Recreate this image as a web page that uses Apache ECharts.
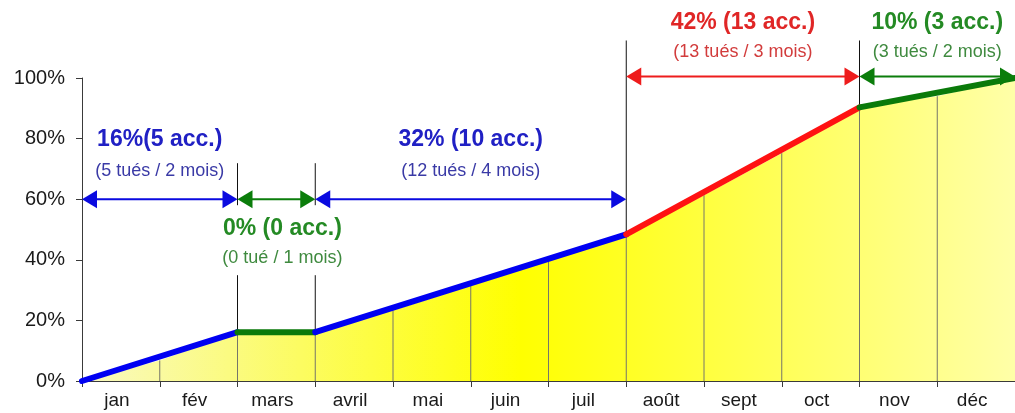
<!DOCTYPE html>
<html>
<head>
<meta charset="utf-8">
<script src="https://cdn.jsdelivr.net/npm/echarts@6/dist/echarts.min.js"></script>
<style>
  html, body { margin: 0; padding: 0; background: #ffffff; }
  #chart { width: 1015px; height: 413px; }
</style>
</head>
<body>
<div id="chart"></div>
<script>
// Cumulative share of accidents over the year, with period annotations.
const months = ['jan', 'fév', 'mars', 'avril', 'mai', 'juin', 'juil', 'août', 'sept', 'oct', 'nov', 'déc'];
// cumulative % at each month boundary (0 = start of jan, 12 = end of déc)
const cumulative = [0, 6.8, 16.1, 16.1, 23.3, 31.4, 39.5, 48.4, 61.3, 75.2, 90.3, 94.0, 100];

// periods, in month-boundary units
const periodStart = [0, 2, 3, 7, 10];
const periodEnd = [2, 3, 7, 10, 12];
const periodLevel = [60, 60, 60, 100.5, 100.5];
const periodShare = ['16%(5 acc.)', '0% (0 acc.)', '32% (10 acc.)', '42% (13 acc.)', '10% (3 acc.)'];
const periodDetail = ['(5 tués / 2 mois)', '(0 tué / 1 mois)', '(12 tués / 4 mois)', '(13 tués / 3 mois)', '(3 tués / 2 mois)'];
const periodTone = ['blue', 'green', 'blue', 'red', 'green'];

const palette = {
  blue:  { line: '#0000f2', arrow: '#0a0ae0', title: '#2020c4', detail: '#3a3aa6' },
  green: { line: '#0a7a0a', arrow: '#0b7d0b', title: '#248a24', detail: '#3f8a3f' },
  red:   { line: '#ff1212', arrow: '#ee1c1c', title: '#e02626', detail: '#d23c3c' }
};
const FONT = '"Liberation Sans", Arial, sans-serif';

const chart = echarts.init(document.getElementById('chart'), null, { renderer: 'canvas' });

// each period is drawn as a straight trend from its first to its last boundary
const segmentSeries = periodStart.map((s, i) => ({
  type: 'line',
  data: [[s, cumulative[s]], [periodEnd[i], cumulative[periodEnd[i]]]],
  xAxisIndex: 0,
  symbol: 'none',
  z: 4,
  silent: true,
  lineStyle: { color: palette[periodTone[i]].line, width: 6, cap: 'round', join: 'round' }
}));

const boundaries = periodStart.slice(1);

const option = {
  animation: false,
  backgroundColor: '#ffffff',
  grid: { left: 82, right: 0, top: 78, bottom: 32, containLabel: false, outerBoundsMode: 'none' },
  xAxis: [
    {
      type: 'value', min: 0, max: 12, interval: 1,
      axisLine: { show: true, lineStyle: { color: '#3a3a3a', width: 1 } },
      axisTick: { show: true, length: 6, lineStyle: { color: '#3a3a3a' } },
      axisLabel: { show: false },
      splitLine: { show: false }
    },
    {
      type: 'category', data: months, position: 'bottom', boundaryGap: true,
      axisLine: { show: false }, axisTick: { show: false }, splitLine: { show: false },
      axisLabel: { color: '#1a1a1a', fontSize: 19, fontFamily: FONT, margin: 10, padding: [0, 8, 0, 0] }
    }
  ],
  yAxis: {
    type: 'value', min: 0, max: 100, interval: 20,
    axisLine: { show: true, lineStyle: { color: '#3a3a3a', width: 1 } },
    axisTick: { show: true, length: 6, lineStyle: { color: '#3a3a3a' } },
    axisLabel: { formatter: '{value}%', color: '#1a1a1a', fontSize: 20, fontFamily: FONT, margin: 17 },
    splitLine: { show: false }
  },
  series: [
    // yellow area under the monthly curve
    {
      type: 'line',
      data: cumulative.map((v, k) => [k, v]),
      xAxisIndex: 0,
      symbol: 'none',
      z: 1,
      silent: true,
      lineStyle: { width: 0 },
      areaStyle: {
        opacity: 1,
        color: new echarts.graphic.LinearGradient(0, 0, 1, 0, [
          { offset: 0, color: '#f9f9c2' },
          { offset: 0.47, color: '#ffff00' },
          { offset: 1, color: '#ffffa8' }
        ])
      }
    },
    // thin month dividers inside the area
    {
      type: 'custom',
      xAxisIndex: 0,
      z: 2,
      silent: true,
      data: cumulative.slice(1, 12).map((v, k) => [k + 1, v]),
      renderItem: function (params, api) {
        const top = api.coord([api.value(0), api.value(1)]);
        const bot = api.coord([api.value(0), 0]);
        return {
          type: 'line',
          shape: { x1: top[0], y1: top[1], x2: bot[0], y2: bot[1] },
          style: { stroke: '#76766a', lineWidth: 1 }
        };
      }
    },
    // black period boundaries
    {
      type: 'custom',
      xAxisIndex: 0,
      z: 3,
      silent: true,
      data: boundaries.map(b => [b, cumulative[b]]),
      renderItem: function (params, api) {
        const b = api.value(0);
        const left = periodEnd.indexOf(b);
        const right = periodStart.indexOf(b);
        const level = Math.max(periodLevel[left], periodLevel[right]);
        const arrowY = api.coord([b, level])[1];
        const curve = api.coord([b, api.value(1)]);
        const narrow = [left, right].some(i => periodEnd[i] - periodStart[i] < 2 && periodLevel[i] === level);
        const top = arrowY - 36;
        const pieces = narrow
          ? [[top, arrowY + 6], [arrowY + 76, curve[1]]]
          : [[top, curve[1]]];
        return {
          type: 'group',
          children: pieces.map(p => ({
            type: 'line',
            shape: { x1: curve[0], y1: p[0], x2: curve[0], y2: p[1] },
            style: { stroke: '#111111', lineWidth: 1 }
          }))
        };
      }
    },
    ...segmentSeries,
    // double arrows and period labels
    {
      type: 'custom',
      xAxisIndex: 0,
      z: 5,
      silent: true,
      data: periodStart.map((s, i) => [s, periodEnd[i], periodLevel[i], i]),
      renderItem: function (params, api) {
        const i = api.value(3);
        const tone = palette[periodTone[i]];
        const p0 = api.coord([api.value(0), api.value(2)]);
        const p1 = api.coord([api.value(1), api.value(2)]);
        const y = p0[1];
        const head = 15, half = 9;
        const cx = (p0[0] + p1[0]) / 2;
        const narrow = api.value(1) - api.value(0) < 2;
        // labels above the top row sit a little tighter so they stay on the page
        const high = api.value(2) > 90;
        const titleY = narrow ? y + 29 : y - (high ? 54 : 60);
        const detailY = narrow ? y + 59 : y - (high ? 24 : 28);
        const tx = narrow ? cx + 6 : cx;
        return {
          type: 'group',
          children: [
            {
              type: 'line',
              shape: { x1: p0[0] + head - 2, y1: y, x2: p1[0] - head + 2, y2: y },
              style: { stroke: tone.arrow, lineWidth: 2 }
            },
            {
              type: 'polygon',
              shape: { points: [[p0[0], y], [p0[0] + head, y - half], [p0[0] + head, y + half]] },
              style: { fill: tone.arrow }
            },
            {
              type: 'polygon',
              shape: { points: [[p1[0], y], [p1[0] - head, y - half], [p1[0] - head, y + half]] },
              style: { fill: tone.arrow }
            },
            {
              type: 'text',
              style: {
                text: periodShare[i], x: tx, y: titleY, align: 'center', verticalAlign: 'middle',
                fill: tone.title, fontSize: 23, fontWeight: 'bold', fontFamily: FONT
              }
            },
            {
              type: 'text',
              style: {
                text: periodDetail[i], x: tx, y: detailY, align: 'center', verticalAlign: 'middle',
                fill: tone.detail, fontSize: 18, fontFamily: FONT
              }
            }
          ]
        };
      }
    }
  ]
};

chart.setOption(option);
</script>
</body>
</html>
